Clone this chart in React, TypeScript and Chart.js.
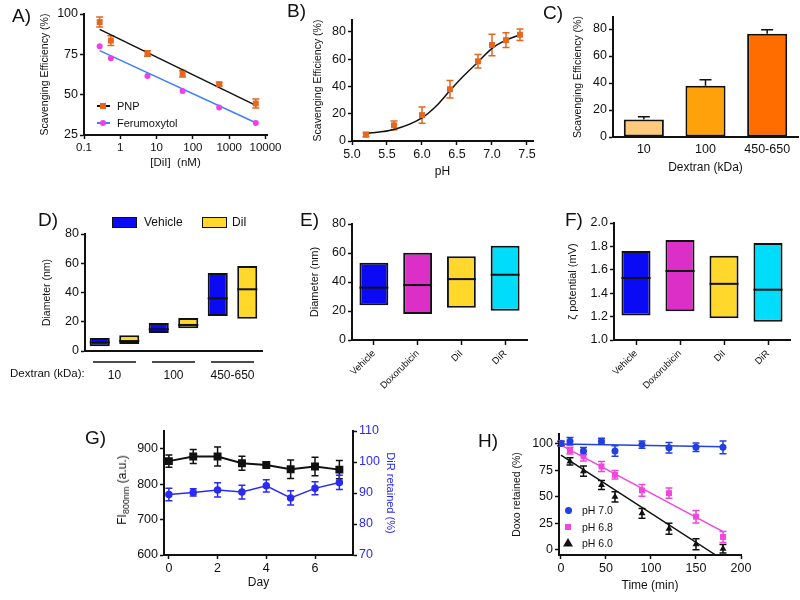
import React, { useEffect, useRef } from 'react';
import { Chart, registerables } from 'chart.js';

Chart.register(...registerables);

const FONT = '"Liberation Sans", Arial, Helvetica, sans-serif';
Chart.defaults.font.family = FONT;
Chart.defaults.color = '#111';

// ---------------- DATA ----------------
// Panel A
const aDose = [0.27, 0.55, 5.6, 52, 530, 5400];
const aPNP = [95, 83.5, 75.5, 63, 56.5, 44.5];
const aPNPErr = [3.1, 3, 1.7, 2, 1.1, 2.8];
const aFeru = [80, 72.5, 61.5, 52.3, 42, 32.5];
const aFitDose = [0.27, 5400];
const aPNPFit = [90.5, 43.4];
const aFeruFit = [77.3, 32.6];
const aXTicks = [0.1, 1, 10, 100, 1000, 10000];
const aYTicks = [25, 50, 75, 100];

// Panel B
const bPH = [5.2, 5.6, 6.0, 6.4, 6.8, 7.0, 7.2, 7.4];
const bEff = [4.7, 11.5, 19, 38, 58.5, 70.5, 74, 78];
const bErr = [1.6, 3.2, 5.9, 6.4, 5, 7.9, 5.4, 4.2];
const bFitPH = [5.2, 5.6, 6.0, 6.2, 6.4, 6.6, 6.8, 7.0, 7.2, 7.4];
const bFitEff = [5.5, 8.5, 17, 25.5, 37, 48, 58, 68, 74, 78];
const bXTicks = [5.0, 5.5, 6.0, 6.5, 7.0, 7.5];
const bYTicks = [0, 20, 40, 60, 80];

// Panel C
const cCats = ['10', '100', '450-650'];
const cEff = [13, 38, 76.5];
const cErr = [2, 4.5, 3];
const cYTicks = [0, 20, 40, 60, 80];

// Panel D
const dCats = ['10', '100', '450-650'];
const dVehLow = [3.2, 12.3, 23.9];
const dVehHigh = [8.9, 19.1, 53.3];
const dVehMed = [5.9, 14.8, 36];
const dDilLow = [4.8, 15.5, 22.1];
const dDilHigh = [10.7, 22.6, 58.1];
const dDilMed = [6.8, 17.8, 42.2];
const dYTicks = [0, 20, 40, 60, 80];

// Panel E
const eCats = ['Vehicle', 'Doxorubicin', 'DiI', 'DiR'];
const eLow = [23.9, 17.9, 22.3, 20.2];
const eHigh = [53.3, 60.2, 57.7, 65];
const eMed = [36.1, 37.9, 42, 45];
const eYTicks = [0, 20, 40, 60, 80];

// Panel F
const fCats = ['Vehicle', 'Doxorubicin', 'DiI', 'DiR'];
const fLow = [1.21, 1.245, 1.185, 1.155];
const fHigh = [1.76, 1.855, 1.72, 1.83];
const fMed = [1.53, 1.59, 1.48, 1.43];
const fYTicks = [1.0, 1.2, 1.4, 1.6, 1.8, 2.0];

// Panel G
const gDays = [0, 1, 2, 3, 4, 5, 6, 7];
const gFI = [865, 878, 878, 859, 854, 842, 850, 841];
const gFIErr = [17, 20, 27, 20, 5, 26, 26, 26];
const gDiR = [89.5, 90.2, 91.0, 90.3, 92.3, 88.4, 91.5, 93.4];
const gDiRErr = [2.0, 1.2, 2.3, 2.2, 2.0, 2.3, 2.1, 2.3];
const gXTicks = [0, 2, 4, 6];
const gYTicks = [600, 700, 800, 900];
const gY2Ticks = [70, 80, 90, 100, 110];

// Panel H
const hTime = [0, 10, 25, 45, 60, 90, 120, 150, 180];
const h70 = [100, 102.2, 93, 102.2, 93, 99, 96, 96.5, 96.5];
const h70Err = [2.5, 3.6, 3.2, 2.7, 4.9, 3.5, 4.9, 4, 6];
const h68 = [100, 93.3, 88, 78.4, 70.5, 55.9, 53.3, 31.1, 12];
const h68Err = [2, 3.2, 4.4, 4.8, 4, 5.6, 4.9, 5.9, 5.2];
const h60 = [100, 83.2, 74, 61, 49.8, 34.3, 19.7, 5.1, 1];
const h60Err = [2, 3.5, 4.8, 4.3, 4.9, 4.6, 5.1, 5.1, 4];
const h70FitT = [0, 180];
const h70Fit = [99.6, 97];
const h68FitT = [0, 180];
const h68Fit = [98.5, 17];
const h60FitT = [0, 171.5];
const h60Fit = [89, -4.8];
const hXTicks = [0, 50, 100, 150, 200];
const hYTicks = [0, 25, 50, 75, 100];

// ---------------- COLOURS ----------------
const INK = '#111';
const ORANGE = '#E5661F';
const MAGENTA = '#EE3FE8';
const LBLUE = '#3F7FFF';
const C_COLORS = ['#FDC97C', '#FFA10A', '#FF6C00'];
const VEH = '#0A0AF5';
const DIL = '#FFD82B';
const DOX = '#DC2FC8';
const DIR = '#00DDFA';
const GBLUE = '#2A2AF5';
const HBLUE = '#2040E0';
const HMAG = '#F046DC';

// ---------------- PLUGINS ----------------
const errorBarPlugin = {
  id: 'errbars',
  beforeDatasetsDraw(chart: any) {
    const ctx = chart.ctx;
    chart.data.datasets.forEach((ds: any, i: number) => {
      if (!ds.errorBars) return;
      const meta = chart.getDatasetMeta(i);
      const ys = chart.scales[meta.yAxisID];
      ctx.save();
      ctx.strokeStyle = ds.errorColor || ds.borderColor;
      ctx.lineWidth = 1.5;
      const cap = ds.errorCap ?? 3.5;
      meta.data.forEach((el: any, j: number) => {
        const e = ds.errorBars[j];
        if (!e) return;
        const raw = ds.data[j];
        const v = typeof raw === 'number' ? raw : raw.y;
        const x = el.x;
        const top = ys.getPixelForValue(v + e);
        const bot = ds.errorUpOnly ? el.y : ys.getPixelForValue(v - e);
        ctx.beginPath();
        ctx.moveTo(x, top);
        ctx.lineTo(x, bot);
        ctx.moveTo(x - cap, top);
        ctx.lineTo(x + cap, top);
        if (!ds.errorUpOnly) {
          ctx.moveTo(x - cap, bot);
          ctx.lineTo(x + cap, bot);
        }
        ctx.stroke();
      });
      ctx.restore();
    });
  },
};

const medianPlugin = {
  id: 'medians',
  afterDatasetsDraw(chart: any) {
    const ctx = chart.ctx;
    chart.data.datasets.forEach((ds: any, i: number) => {
      if (!ds.medians) return;
      const meta = chart.getDatasetMeta(i);
      const ys = chart.scales[meta.yAxisID];
      ctx.save();
      ctx.strokeStyle = INK;
      ctx.lineWidth = 2;
      meta.data.forEach((el: any, j: number) => {
        const y = ys.getPixelForValue(ds.medians[j]);
        const w = el.width;
        ctx.beginPath();
        ctx.moveTo(el.x - w / 2, y);
        ctx.lineTo(el.x + w / 2, y);
        ctx.stroke();
      });
      ctx.restore();
    });
  },
};

const groupLinePlugin = {
  id: 'grouplines',
  afterDraw(chart: any) {
    const xs = chart.scales.x;
    const ctx = chart.ctx;
    const y = chart.chartArea.bottom + 11;
    ctx.save();
    ctx.strokeStyle = INK;
    ctx.lineWidth = 1.5;
    xs.ticks.forEach((_t: any, i: number) => {
      const cx = xs.getPixelForValue(i);
      ctx.beginPath();
      ctx.moveTo(cx - 21.5, y);
      ctx.lineTo(cx + 21.5, y);
      ctx.stroke();
    });
    ctx.restore();
  },
};

// ---------------- HELPERS ----------------
const fixY = (w: number) => (s: any) => {
  s.width = w;
  s.paddingTop = 0; s.paddingBottom = 0; s.paddingLeft = 0; s.paddingRight = 0;
};
const fixX = (h: number) => (s: any) => {
  s.height = h;
  s.paddingTop = 0; s.paddingBottom = 0; s.paddingLeft = 0; s.paddingRight = 0;
};
const setTicks = (vals: number[]) => (s: any) => {
  s.ticks = vals.map((v) => ({ value: v }));
};

function axis(opts: any) {
  const { grid, ticks, ...rest } = opts;
  return {
    border: { display: true, color: INK, width: 2 },
    grid: {
      display: true, drawOnChartArea: false, drawTicks: true, tickLength: 4,
      tickWidth: 1.5, tickColor: INK, ...(grid || {}),
    },
    ticks: { font: { size: 12.5 }, color: INK, padding: 2, autoSkip: false, maxRotation: 0, ...(ticks || {}) },
    ...rest,
  };
}
const title = (text: string, size = 10.5, color = INK) => ({
  display: true, text, font: { size }, color, padding: 0,
});
function baseOptions(pad: any, scales: any) {
  return {
    animation: false, responsive: false, maintainAspectRatio: false, events: [],
    layout: { padding: pad },
    plugins: { legend: { display: false }, tooltip: { enabled: false } },
    scales,
  };
}
const xy = (xs: number[], ys: number[]) => xs.map((x, i) => ({ x, y: ys[i] }));
const fmt1 = (v: any) => Number(v).toFixed(1);

// ---------------- CHART CONFIGS ----------------
const makeA = () => ({
  type: 'line',
  data: {
    datasets: [
      { data: xy(aDose, aPNP), showLine: false, pointStyle: 'rect', pointRadius: 4.2, backgroundColor: ORANGE, borderColor: ORANGE, borderWidth: 0, errorBars: aPNPErr },
      { data: xy(aDose, aFeru), showLine: false, pointStyle: 'circle', pointRadius: 3, backgroundColor: MAGENTA, borderColor: MAGENTA, borderWidth: 0 },
      { data: xy(aFitDose, aPNPFit), borderColor: INK, borderWidth: 1.5, pointRadius: 0 },
      { data: xy(aFitDose, aFeruFit), borderColor: LBLUE, borderWidth: 1.5, pointRadius: 0 },
    ],
  },
  options: baseOptions({ left: 39, right: 533, top: 14, bottom: 430 }, {
    x: axis({ type: 'logarithmic', min: 0.1, max: 11000, afterBuildTicks: setTicks(aXTicks), afterFit: fixX(35), ticks: { callback: (v: any) => String(v), font: { size: 11.5 } }, title: title('[DiI]  (nM)', 11.5) }),
    y: axis({ type: 'linear', min: 25, max: 100, afterBuildTicks: setTicks(aYTicks), afterFit: fixY(45), title: title('Scavenging Efficiency (%)') }),
  }),
  plugins: [errorBarPlugin],
});

const makeB = () => ({
  type: 'line',
  data: {
    datasets: [
      { data: xy(bPH, bEff), showLine: false, pointStyle: 'rect', pointRadius: 4.2, backgroundColor: ORANGE, borderColor: ORANGE, borderWidth: 0, errorBars: bErr },
      { data: xy(bFitPH, bFitEff), borderColor: INK, borderWidth: 1.5, pointRadius: 0, cubicInterpolationMode: 'monotone' },
    ],
  },
  options: baseOptions({ left: 312, right: 267, top: 20, bottom: 421 }, {
    x: axis({ type: 'linear', min: 5.0, max: 7.586, afterBuildTicks: setTicks(bXTicks), afterFit: fixX(38), ticks: { callback: fmt1 }, title: title('pH', 12) }),
    y: axis({ type: 'linear', min: 0, max: 88.8, afterBuildTicks: setTicks(bYTicks), afterFit: fixY(40), title: title('Scavenging Efficiency (%)') }),
  }),
  plugins: [errorBarPlugin],
});

const makeC = () => ({
  type: 'bar',
  data: {
    labels: cCats,
    datasets: [
      { data: cEff, backgroundColor: C_COLORS, borderColor: INK, borderWidth: 2, borderSkipped: false, barPercentage: 0.65, categoryPercentage: 1, errorBars: cErr, errorUpOnly: true, errorColor: INK, errorCap: 6 },
    ],
  },
  options: baseOptions({ left: 572, right: 2, top: 17, bottom: 425 }, {
    x: axis({ type: 'category', afterFit: fixX(38), grid: { display: false, drawTicks: false, tickLength: 0 }, ticks: { padding: 5.5 }, title: title('Dextran (kDa)', 12) }),
    y: axis({ type: 'linear', min: 0, max: 88.9, afterBuildTicks: setTicks(cYTicks), afterFit: fixY(41), title: title('Scavenging Efficiency (%)') }),
  }),
  plugins: [errorBarPlugin],
});

const makeD = () => ({
  type: 'bar',
  data: {
    labels: dCats,
    datasets: [
      { data: dVehLow.map((l, i) => [l, dVehHigh[i]]), medians: dVehMed, backgroundColor: VEH, borderColor: INK, borderWidth: 2, borderSkipped: false, barPercentage: 0.68, categoryPercentage: 1 },
      { data: dDilLow.map((l, i) => [l, dDilHigh[i]]), medians: dDilMed, backgroundColor: DIL, borderColor: INK, borderWidth: 2, borderSkipped: false, barPercentage: 0.68, categoryPercentage: 1 },
    ],
  },
  options: baseOptions({ left: 41, right: 538, top: 234, bottom: 209 }, {
    x: axis({ type: 'category', afterFit: fixX(40), grid: { display: false, drawTicks: false, tickLength: 0 }, ticks: { padding: 17, font: { size: 12 } } }),
    y: axis({ type: 'linear', min: 0, max: 80, afterBuildTicks: setTicks(dYTicks), afterFit: fixY(44), title: title('Diameter (nm)') }),
  }),
  plugins: [medianPlugin, groupLinePlugin],
});

const makeBox = (cats: string[], low: number[], high: number[], med: number[], yMin: number, yMax: number, yTicks: number[], pad: any, yW: number, yTitle: string, fmt?: any) => ({
  type: 'bar',
  data: {
    labels: cats,
    datasets: [
      { data: low.map((l, i) => [l, high[i]]), medians: med, backgroundColor: [VEH, DOX, DIL, DIR], borderColor: INK, borderWidth: 2, borderSkipped: false, barPercentage: 0.66, categoryPercentage: 1 },
    ],
  },
  options: baseOptions(pad, {
    x: axis({ type: 'category', afterFit: fixX(60), grid: { offset: false, tickLength: 5 }, ticks: { minRotation: 45, maxRotation: 45, font: { size: 9.5 }, padding: 3 } }),
    y: axis({ type: 'linear', min: yMin, max: yMax, afterBuildTicks: setTicks(yTicks), afterFit: fixY(yW), ticks: fmt ? { callback: fmt } : {}, title: title(yTitle, 11) }),
  }),
  plugins: [medianPlugin],
});

const makeE = () => makeBox(eCats, eLow, eHigh, eMed, 0, 80, eYTicks, { left: 308, right: 273, top: 224, bottom: 200 }, 44, 'Diameter (nm)');
const makeF = () => makeBox(fCats, fLow, fHigh, fMed, 1.0, 2.0, fYTicks, { left: 566, right: 10, top: 223, bottom: 200 }, 48, 'ζ potential (mV)', fmt1);

const makeG = () => ({
  type: 'line',
  data: {
    datasets: [
      { data: xy(gDays, gFI), yAxisID: 'y', borderColor: INK, backgroundColor: INK, borderWidth: 2, pointStyle: 'rect', pointRadius: 4.2, errorBars: gFIErr },
      { data: xy(gDays, gDiR), yAxisID: 'y1', borderColor: GBLUE, backgroundColor: GBLUE, borderWidth: 1.5, pointStyle: 'circle', pointRadius: 3, errorBars: gDiRErr },
    ],
  },
  options: baseOptions({ left: 110, right: 403, top: 431, bottom: 10 }, {
    x: axis({ type: 'linear', min: -0.2, max: 7.56, afterBuildTicks: setTicks(gXTicks), afterFit: fixX(35), title: title('Day', 12) }),
    y: axis({ type: 'linear', position: 'left', min: 600, max: 950, afterBuildTicks: setTicks(gYTicks), afterFit: fixY(54) }),
    y1: axis({ type: 'linear', position: 'right', min: 70, max: 110, afterBuildTicks: setTicks(gY2Ticks), afterFit: fixY(44), ticks: { color: GBLUE }, title: title('DiR retained (%)', 11, GBLUE) }),
  }),
  plugins: [errorBarPlugin],
});

const makeH = () => ({
  type: 'line',
  data: {
    datasets: [
      { data: xy(hTime, h70), showLine: false, pointStyle: 'circle', pointRadius: 3.5, backgroundColor: HBLUE, borderColor: HBLUE, borderWidth: 0, errorBars: h70Err },
      { data: xy(hTime, h68), showLine: false, pointStyle: 'rect', pointRadius: 4.2, backgroundColor: HMAG, borderColor: HMAG, borderWidth: 0, errorBars: h68Err },
      { data: xy(hTime, h60), showLine: false, pointStyle: 'triangle', pointRadius: 4, backgroundColor: INK, borderColor: INK, borderWidth: 0, errorBars: h60Err },
      { data: xy(h70FitT, h70Fit), borderColor: HBLUE, borderWidth: 1.5, pointRadius: 0 },
      { data: xy(h68FitT, h68Fit), borderColor: HMAG, borderWidth: 1.5, pointRadius: 0 },
      { data: xy(h60FitT, h60Fit), borderColor: INK, borderWidth: 1.5, pointRadius: 0 },
    ],
  },
  options: baseOptions({ left: 511, right: 59, top: 434, bottom: 7 }, {
    x: axis({ type: 'linear', min: -2.2, max: 200, afterBuildTicks: setTicks(hXTicks), afterFit: fixX(38), title: title('Time (min)', 12) }),
    y: axis({ type: 'linear', min: -5, max: 109, afterBuildTicks: setTicks(hYTicks), afterFit: fixY(48), title: title('Doxo retained (%)') }),
  }),
  plugins: [errorBarPlugin],
});

// ---------------- COMPONENTS ----------------
function ChartLayer({ make }: { make: () => any }) {
  const ref = useRef<HTMLCanvasElement>(null);
  useEffect(() => {
    const chart = new Chart(ref.current as HTMLCanvasElement, make() as any);
    return () => chart.destroy();
  }, []);
  return (
    <canvas
      ref={ref}
      width={800}
      height={600}
      style={{ position: 'absolute', left: 0, top: 0, width: 800, height: 600 }}
    />
  );
}

const abs = (left: number, top: number, extra: any = {}) => ({
  position: 'absolute' as const, left, top, fontFamily: FONT, color: INK, whiteSpace: 'nowrap' as const, ...extra,
});

function PanelLabel({ text, left, top }: { text: string; left: number; top: number }) {
  return <div style={abs(left, top, { fontSize: 19, lineHeight: '19px' })}>{text}</div>;
}

function LegendText({ text, left, cy, size = 11 }: { text: string; left: number; cy: number; size?: number }) {
  return <div style={abs(left, cy, { fontSize: size, lineHeight: `${size + 2}px`, transform: 'translateY(-50%)' })}>{text}</div>;
}

export default function App() {
  return (
    <div style={{ position: 'fixed', left: 0, top: 0, width: 800, height: 600, background: '#fff', overflow: 'hidden' }}>
      <ChartLayer make={makeA} />
      <ChartLayer make={makeB} />
      <ChartLayer make={makeC} />
      <ChartLayer make={makeD} />
      <ChartLayer make={makeE} />
      <ChartLayer make={makeF} />
      <ChartLayer make={makeG} />
      <ChartLayer make={makeH} />

      <PanelLabel text="A)" left={12} top={6} />
      <PanelLabel text="B)" left={287} top={1} />
      <PanelLabel text="C)" left={543} top={3} />
      <PanelLabel text="D)" left={38} top={210} />
      <PanelLabel text="E)" left={300} top={210} />
      <PanelLabel text="F)" left={565} top={210} />
      <PanelLabel text="G)" left={85} top={428} />
      <PanelLabel text="H)" left={478} top={431} />

      {/* Panel A legend */}
      <div style={abs(97, 105.25, { width: 13, height: 1.5, background: INK })} />
      <div style={abs(100, 103, { width: 6, height: 6, background: ORANGE })} />
      <LegendText text="PNP" left={117} cy={106} />
      <div style={abs(97, 122.25, { width: 13, height: 1.5, background: LBLUE })} />
      <div style={abs(100, 120, { width: 6, height: 6, borderRadius: 3, background: MAGENTA })} />
      <LegendText text="Ferumoxytol" left={117} cy={123} />

      {/* Panel D legend */}
      <div style={abs(112, 216.5, { width: 25, height: 11, background: VEH, border: '1.5px solid #111', boxSizing: 'border-box' })} />
      <LegendText text="Vehicle" left={144} cy={222} size={12} />
      <div style={abs(202, 216.5, { width: 25, height: 11, background: DIL, border: '1.5px solid #111', boxSizing: 'border-box' })} />
      <LegendText text="DiI" left={232} cy={222} size={12} />
      <LegendText text="Dextran (kDa):" left={10} cy={374} size={11.5} />

      {/* Panel G left axis title */}
      <div style={abs(122, 490, { fontSize: 12, lineHeight: '14px', transform: 'translate(-50%, -50%) rotate(-90deg)' })}>
        FI<sub style={{ fontSize: 9, lineHeight: 0 }}>800nm</sub> (a.u.)
      </div>

      {/* Panel H legend */}
      <div style={abs(564.5, 506.5, { width: 7, height: 7, borderRadius: 3.5, background: HBLUE })} />
      <LegendText text="pH 7.0" left={582} cy={510} size={10.5} />
      <div style={abs(565, 524, { width: 6, height: 6, background: HMAG })} />
      <LegendText text="pH 6.8" left={582} cy={527} size={10.5} />
      <svg style={{ position: 'absolute', left: 563, top: 538 }} width={10} height={9}>
        <polygon points="5,0 10,8.5 0,8.5" fill={INK} />
      </svg>
      <LegendText text="pH 6.0" left={582} cy={543} size={10.5} />
    </div>
  );
}
